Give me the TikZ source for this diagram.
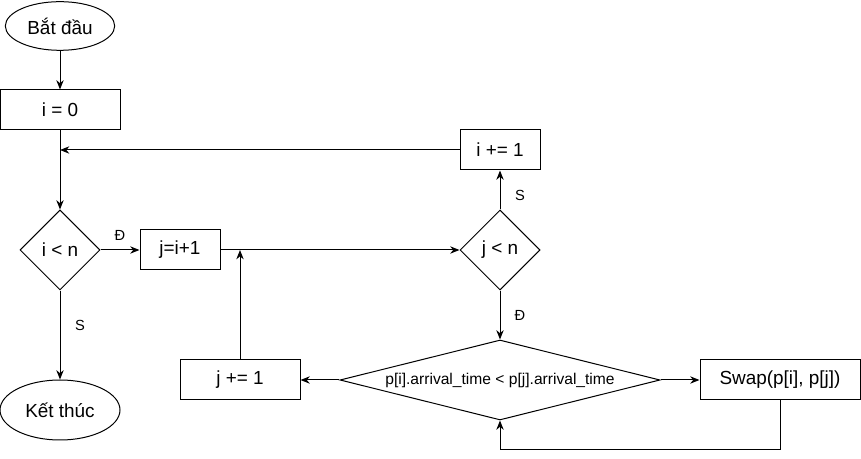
\documentclass[tikz,border=0pt]{standalone}
\usepackage{fontspec}
\setmainfont{Liberation Sans}
\usepackage{tikz}
\usetikzlibrary{arrows.meta,shapes.geometric,calc}

\tikzset{
  every picture/.style={line width=0.75pt},
  terminal/.style={ellipse,draw,inner sep=0pt,font=\fontsize{14.2}{17}\selectfont},
  process/.style={rectangle,draw,inner sep=0pt,minimum width=60pt,minimum height=30pt,
    font=\fontsize{14.2}{17}\selectfont},
  decision/.style={diamond,draw,inner sep=0pt,minimum width=60pt,minimum height=60pt,
    font=\fontsize{14.2}{17}\selectfont},
  branch/.style={font=\fontsize{11}{13}\selectfont},
  flow/.style={-{Stealth[length=7pt,width=5.5pt]}}
}

\begin{document}
\begin{tikzpicture}[x=0.75pt,y=-0.75pt]
  \useasboundingbox (0,0) rectangle (861,459);
  % nodes
  \node[terminal,minimum width=82pt,minimum height=36.5pt] (start) at (60,26) {Bắt đầu};
  \node[process,minimum width=90pt] (izero) at (60,110) {i = 0};
  \node[decision] (iless) at (60,250) {i < n};
  \node[terminal,minimum width=90pt,minimum height=45pt] (stop) at (60,410) {Kết thúc};
  \node[process] (jinit) at (180,250) {j=i+1};
  \node[decision] (jless) at (500,250) {j < n};
  \node[process] (iplus) at (500,150) {i += 1};
  \node[decision,shape aspect=4,minimum width=240pt,
    font=\fontsize{11.7}{14}\selectfont] (cmp) at (500,380) {p[i].arrival\_time < p[j].arrival\_time};
  \node[process,minimum width=120pt] (swap) at (780,380) {Swap(p[i], p[j])};
  \node[process,minimum width=90pt] (jplus) at (240,380) {j += 1};
  \coordinate (back) at (500,450);

  % branch labels
  \node[branch] (yes1) at (120,235) {Đ};
  \node[branch] (no1) at (80,325) {S};
  \node[branch] (no2) at (520,195) {S};
  \node[branch] (yes2) at (520,315) {Đ};

  % connectors
  \draw[flow] (start) -- (izero);
  \draw[flow] (izero) -- (iless);
  \draw[flow] (iless) -- (stop);
  \draw[flow] (iless) -- (jinit);
  \draw[flow] (jinit) -- (jless);
  \draw[flow] (jless) -- (iplus);
  \draw[flow] (iplus.west) -- (iplus.west -| izero.south);
  \draw[flow] (jless) -- (cmp);
  \draw[flow] (cmp) -- (swap);
  \draw[flow] (cmp) -- (jplus);
  \draw[flow] (jplus.north) -- (jplus.north |- jinit.east);
  \draw[flow] (swap.south) |- (back) -- (cmp.south);
\end{tikzpicture}
\end{document}
